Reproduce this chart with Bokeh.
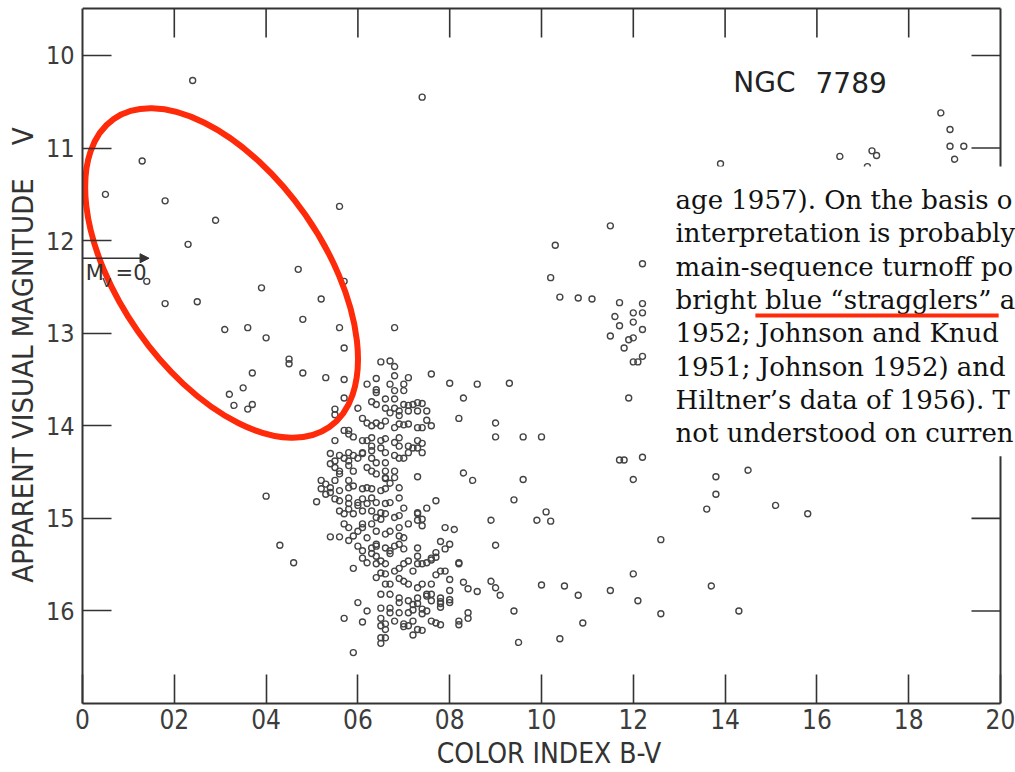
import math
from bokeh.plotting import figure
from bokeh.models import FixedTicker, LinearAxis, Range1d, BoxAnnotation, Label, Arrow, NormalHead, Title
from bokeh.embed import file_html
from bokeh.resources import INLINE

# ---------------- data ----------------
# bright blue stars / blue stragglers (above the turnoff)
upper_bv = [0.24, 0.74, 0.13, 0.05, 0.18, 0.29, 0.56, 0.23, 0.47, 0.39, 0.14, 0.52, 0.57,
            0.18, 0.25, 0.31, 0.36, 0.40, 0.48, 0.56, 0.57, 0.45, 0.45, 0.37, 0.48, 0.53,
            0.57, 0.57, 0.32, 0.35, 0.33, 0.36, 0.37, 0.68, 0.55, 0.55, 0.60]
upper_v = [10.27, 10.45, 11.14, 11.50, 11.57, 11.78, 11.63, 12.04, 12.31, 12.51, 12.44, 12.63, 12.44,
           12.68, 12.66, 12.96, 12.94, 13.05, 12.85, 12.94, 13.16, 13.28, 13.33, 13.43, 13.43, 13.48,
           13.50, 13.70, 13.66, 13.59, 13.78, 13.82, 13.77, 12.94, 13.82, 13.88, 13.81]

# faint blue field stars
faint_blue_bv = [0.40, 0.43, 0.46, 0.51, 0.54, 0.56, 0.59, 0.59]
faint_blue_v = [14.76, 15.29, 15.48, 14.82, 15.20, 15.20, 15.54, 16.45]

# giant branch and red field stars
giant_bv = [1.03, 1.15, 1.39, 1.65, 1.72, 1.73, 1.71, 1.87, 1.89, 1.89, 1.92, 1.90,
            1.22, 1.02, 1.04, 1.08, 1.11, 1.17, 1.22, 1.16, 1.20, 1.22, 1.17, 1.20, 1.22,
            1.15, 1.19, 1.20, 1.18, 1.20, 1.21, 1.22,
            0.76, 0.80, 0.86, 0.93, 0.83, 1.19,
            1.38, 1.38, 1.36, 1.45, 1.51, 1.58, 1.26, 1.37, 1.26, 1.43]
giant_v = [12.05, 11.84, 11.17, 11.09, 11.03, 11.08, 11.20, 10.62, 10.80, 10.98, 10.98, 11.12,
           12.25, 12.40, 12.61, 12.62, 12.63, 12.67, 12.68, 12.82, 12.78, 12.78, 12.92, 12.88, 12.96,
           13.03, 13.07, 13.05, 13.16, 13.31, 13.31, 13.25,
           13.44, 13.54, 13.55, 13.54, 13.70, 13.70,
           14.55, 14.74, 14.90, 14.48, 14.86, 14.95, 15.23, 15.73, 16.03, 16.00]

# stars to the red of the main sequence
red_side_bv = [0.82, 0.90, 0.90, 0.96, 1.00, 1.17, 1.18, 1.22, 1.20, 0.83, 0.85, 0.96, 0.94,
               0.77, 0.75, 1.01, 0.99, 1.02, 0.89, 0.90, 1.20, 0.82, 1.00, 1.05, 1.08, 1.15,
               1.21, 1.09, 0.94, 0.95, 1.04, 0.89, 0.90, 0.91, 0.83, 0.84, 0.86, 0.80, 0.80,
               0.80, 0.80, 0.84, 0.84, 0.82, 0.82, 0.78, 0.80, 0.79, 0.77, 0.76, 0.78, 0.79,
               0.77, 0.78, 0.73, 0.79, 0.81, 0.73, 0.73, 0.74, 0.71, 0.73, 0.73, 0.73, 0.76,
               0.74, 0.75, 0.76, 0.78, 0.78, 0.72, 0.74, 0.72, 0.76, 0.78, 0.74, 0.72, 0.70]
red_side_v = [13.92, 13.97, 14.12, 14.12, 14.12, 14.37, 14.37, 14.34, 14.58, 14.51, 14.59, 14.58, 14.80,
              14.81, 14.89, 14.93, 15.02, 15.03, 15.02, 15.29, 15.60, 15.48, 15.72, 15.73, 15.83, 15.78,
              15.89, 16.13, 16.00, 16.34, 16.30, 15.68, 15.75, 15.83, 15.69, 15.76, 15.79, 15.66, 15.78,
              15.88, 15.91, 16.02, 16.08, 16.11, 16.15, 15.25, 15.28, 15.33, 15.42, 15.45, 15.57, 15.57,
              15.61, 15.96, 14.55, 15.10, 15.12, 14.94, 15.02, 15.08, 15.06, 15.32, 15.41, 15.49, 15.43,
              15.71, 15.82, 15.82, 15.86, 15.90, 15.99, 16.03, 16.11, 16.11, 16.15, 16.21, 16.26, 16.17]

# main sequence, turnoff part (V < 14.6)
ms_top_bv = [0.62, 0.64, 0.64, 0.65, 0.67, 0.68, 0.68, 0.71, 0.67, 0.68, 0.70, 0.64, 0.66, 0.68,
             0.70, 0.63, 0.64, 0.68, 0.70, 0.71, 0.72, 0.73, 0.74, 0.75, 0.73, 0.71, 0.69, 0.67,
             0.66, 0.69, 0.61, 0.62, 0.63, 0.64, 0.65, 0.66, 0.68, 0.69, 0.70, 0.71, 0.73, 0.74,
             0.76, 0.75, 0.57, 0.58, 0.59, 0.61, 0.62, 0.63, 0.65, 0.66, 0.68, 0.69, 0.71, 0.72,
             0.73, 0.74, 0.55, 0.63, 0.69, 0.74, 0.58, 0.54, 0.56, 0.57, 0.58, 0.60, 0.61, 0.63,
             0.64, 0.66, 0.68, 0.69, 0.70, 0.54, 0.55, 0.56, 0.58, 0.59, 0.62, 0.63, 0.64, 0.66,
             0.68, 0.66, 0.55, 0.58, 0.59, 0.61, 0.63, 0.65, 0.66, 0.71, 0.73, 0.68]
ms_top_v = [13.55, 13.49, 13.61, 13.31, 13.30, 13.36, 13.46, 13.48, 13.55, 13.62, 13.55, 13.64, 13.71, 13.71,
            13.62, 13.74, 13.77, 13.81, 13.77, 13.78, 13.77, 13.75, 13.76, 13.84, 13.84, 13.84, 13.84, 13.86,
            13.81, 13.89, 13.92, 13.97, 14.00, 13.97, 14.00, 13.95, 14.02, 13.98, 13.99, 13.98, 14.02, 14.02,
            14.00, 13.94, 14.05, 14.05, 14.12, 14.16, 14.16, 14.22, 14.16, 14.14, 14.18, 14.22, 14.22, 14.24,
            14.16, 14.29, 14.16, 14.13, 14.13, 14.19, 14.09, 14.30, 14.32, 14.35, 14.38, 14.35, 14.30, 14.35,
            14.40, 14.40, 14.32, 14.35, 14.35, 14.41, 14.45, 14.49, 14.43, 14.49, 14.45, 14.49, 14.52, 14.56,
            14.56, 14.49, 14.38, 14.29, 14.32, 14.29, 14.27, 14.24, 14.29, 14.29, 14.24, 14.49]

# main sequence, fainter part
ms_low_bv = [0.53, 0.54, 0.56, 0.58, 0.59, 0.61, 0.62, 0.63, 0.65, 0.66, 0.69, 0.52, 0.53, 0.55,
             0.56, 0.58, 0.58, 0.60, 0.61, 0.63, 0.64, 0.66, 0.67, 0.69, 0.54, 0.56, 0.57, 0.59,
             0.61, 0.63, 0.64, 0.65, 0.66, 0.68, 0.69, 0.66, 0.67, 0.58, 0.60, 0.62, 0.65, 0.70,
             0.57, 0.58, 0.60, 0.61, 0.63, 0.64, 0.66, 0.67, 0.69, 0.70, 0.61, 0.73, 0.74, 0.58,
             0.60, 0.61, 0.63, 0.64, 0.66, 0.67, 0.69, 0.59, 0.62, 0.69, 0.64, 0.68, 0.70, 0.77,
             0.61, 0.62, 0.64, 0.65, 0.66, 0.68, 0.69, 0.70, 0.71, 0.74, 0.63, 0.67, 0.64, 0.65,
             0.66, 0.72, 0.75, 0.82, 0.64, 0.66, 0.67, 0.69, 0.70, 0.71, 0.73, 0.76, 0.65, 0.67,
             0.69, 0.71, 0.73, 0.75, 0.69, 0.73, 0.76, 0.78, 0.60, 0.62, 0.65, 0.67, 0.72, 0.74,
             0.57, 0.61, 0.65, 0.66, 0.68, 0.70, 0.67, 0.69, 0.71, 0.75, 0.65, 0.71, 0.73, 0.77,
             0.65, 0.66, 0.65, 0.66, 0.55, 0.56, 0.58, 0.52]
ms_low_v = [14.63, 14.67, 14.70, 14.67, 14.65, 14.68, 14.67, 14.68, 14.70, 14.68, 14.67, 14.68, 14.74, 14.79,
            14.81, 14.78, 14.84, 14.83, 14.79, 14.78, 14.83, 14.84, 14.83, 14.78, 14.72, 14.92, 14.95, 14.95,
            14.92, 14.92, 14.99, 14.94, 14.95, 14.99, 14.97, 14.57, 14.62, 14.90, 14.86, 14.84, 15.01, 14.89,
            15.06, 15.10, 15.14, 15.10, 15.06, 15.14, 15.17, 15.14, 15.10, 15.21, 15.06, 14.95, 15.01, 15.24,
            15.30, 15.35, 15.32, 15.28, 15.32, 15.35, 15.28, 15.19, 15.21, 15.19, 15.30, 15.30, 15.33, 15.37,
            15.43, 15.48, 15.49, 15.46, 15.49, 15.57, 15.54, 15.49, 15.46, 15.49, 15.38, 15.38, 15.41, 15.59,
            15.60, 15.57, 15.48, 15.49, 15.64, 15.71, 15.71, 15.65, 15.68, 15.71, 15.75, 15.71, 15.82, 15.82,
            15.86, 15.89, 15.86, 15.84, 15.91, 15.92, 15.89, 15.92, 15.91, 16.00, 15.97, 15.97, 15.93, 15.98,
            16.08, 16.12, 16.08, 16.14, 16.11, 16.14, 16.02, 16.02, 16.02, 16.00, 16.16, 16.16, 16.20, 16.13,
            16.29, 16.29, 16.35, 16.20, 14.59, 14.52, 14.59, 14.59]

x_ticks = [0.0, 0.2, 0.4, 0.6, 0.8, 1.0, 1.2, 1.4, 1.6, 1.8, 2.0]
x_tick_labels = ["0", "02", "04", "06", "08", "10", "12", "14", "16", "18", "20"]
y_ticks = [10, 11, 12, 13, 14, 15, 16]
y_tick_labels = ["10", "11", "12", "13", "14", "15", "16"]

text_lines = [
    "age 1957). On the basis o",
    "interpretation is probably",
    "main-sequence turnoff po",
    "bright blue \u201cstragglers\u201d a",
    "1952; Johnson and Knud",
    "1951; Johnson 1952) and",
    "Hiltner\u2019s data of 1956). T",
    "not understood on curren",
]

# ---------------- layout & styling ----------------
INK = "#333333"
RED = "#ff2a0a"
SANS = "DejaVu Sans"
COND = "DejaVu Sans Condensed"
SERIF = "DejaVu Serif"

X_MIN, X_MAX = 0.0, 2.0          # plotted B-V range (box edges)
V_FAINT, V_BRIGHT = 17.0, 9.4923  # plotted V range (box edges)
PX_X = 459.0                      # pixels per unit of B-V
PX_Y = 92.57                      # pixels per magnitude
TICK_PX = 29

p = figure(width=1015, height=772,
           x_range=Range1d(X_MIN, X_MAX + 15 / PX_X),
           y_range=Range1d(V_FAINT, V_BRIGHT - 2 / PX_Y),
           output_backend="svg", toolbar_location=None,
           x_axis_location=None, y_axis_location=None,
           min_border_left=82, min_border_right=0, min_border_top=6, min_border_bottom=69)
p.outline_line_color = None
p.background_fill_color = "white"
p.border_fill_color = "white"
p.grid.visible = False

xaxis = LinearAxis(ticker=FixedTicker(ticks=x_ticks), bounds=(X_MIN, X_MAX),
                   major_tick_in=TICK_PX, major_tick_out=0, minor_tick_line_color=None,
                   major_tick_line_color=INK, major_tick_line_width=1.6,
                   axis_line_color=INK, axis_line_width=2,
                   major_label_overrides={t: l for t, l in zip(x_ticks, x_tick_labels)},
                   major_label_text_font=COND, major_label_text_font_size="26px",
                   major_label_text_color="#3c3c3c", major_label_standoff=5)
p.add_layout(xaxis, "below")
p.add_layout(Title(text="COLOR INDEX B-V", align="center", offset=39, standoff=6,
                   text_font=COND, text_font_size="28px", text_font_style="normal",
                   text_color=INK), "below")

yaxis = LinearAxis(ticker=FixedTicker(ticks=y_ticks), bounds=(V_BRIGHT, V_FAINT),
                   major_tick_in=TICK_PX, major_tick_out=0, minor_tick_line_color=None,
                   major_tick_line_color=INK, major_tick_line_width=1.6,
                   axis_line_color=INK, axis_line_width=2,
                   major_label_overrides={t: l for t, l in zip(y_ticks, y_tick_labels)},
                   major_label_text_font=COND, major_label_text_font_size="25px",
                   major_label_text_color="#3c3c3c", major_label_standoff=8,
                   axis_label="APPARENT VISUAL MAGNITUDE\u00a0\u00a0\u00a0\u00a0V",
                   axis_label_text_font=COND, axis_label_text_font_size="29px",
                   axis_label_text_font_style="normal", axis_label_text_color=INK,
                   axis_label_standoff=3)
p.add_layout(yaxis, "left")

# top and right edges of the box with their inward ticks
p.segment(x0=[X_MIN, X_MAX], y0=[V_BRIGHT, V_BRIGHT], x1=[X_MAX, X_MAX], y1=[V_BRIGHT, V_FAINT],
          line_color=INK, line_width=2)
p.segment(x0=x_ticks[1:-1], y0=[V_BRIGHT] * (len(x_ticks) - 2), x1=x_ticks[1:-1],
          y1=[V_BRIGHT + TICK_PX / PX_Y] * (len(x_ticks) - 2), line_color=INK, line_width=1.6)
p.segment(x0=[X_MAX - TICK_PX / PX_X] * len(y_ticks), y0=y_ticks, x1=[X_MAX] * len(y_ticks), y1=y_ticks,
          line_color=INK, line_width=1.6)

for bv, v in [(upper_bv, upper_v), (faint_blue_bv, faint_blue_v), (giant_bv, giant_v),
              (red_side_bv, red_side_v), (ms_top_bv, ms_top_v), (ms_low_bv, ms_low_v)]:
    p.scatter(bv, v, marker="circle", size=6, line_color="#444444", fill_color=None, line_width=1.4)

# cluster name
p.add_layout(Label(x=1.418, y=10.29, text="NGC", text_font=SANS, text_font_size="28px",
                   text_color="#222222", text_baseline="middle"))
p.add_layout(Label(x=1.597, y=10.29, text="7789", text_font=SANS, text_font_size="28px",
                   text_color="#222222", text_baseline="middle"))

# M_V = 0 marker
p.add_layout(Arrow(x_start=0.0, y_start=12.19, x_end=0.145, y_end=12.19, line_color=INK, line_width=1.5,
                   end=NormalHead(size=9, fill_color=INK, line_color=INK)))
p.add_layout(Label(x=0.007, y=12.35, text="M", text_font=SANS, text_font_size="21px",
                   text_color=INK, text_baseline="middle"))
p.add_layout(Label(x=0.043, y=12.45, text="V", text_font=SANS, text_font_size="13px",
                   text_color=INK, text_baseline="middle"))
p.add_layout(Label(x=0.072, y=12.35, text="=0", text_font=SANS, text_font_size="21px",
                   text_color=INK, text_baseline="middle"))

# red ellipse around the blue stragglers
p.ellipse(x=0.303, y=12.35, width=376, height=204, width_units="screen", height_units="screen",
          angle=-0.96, fill_color=None, line_color=RED, line_width=6)

# pasted text excerpt
p.add_layout(BoxAnnotation(left=1.277, right=2.6, top=11.20, bottom=14.33, fill_color="white",
                           fill_alpha=1.0, line_color=None))
line_y = [11.56, 11.92, 12.28, 12.64, 13.00, 13.36, 13.72, 14.08]
for txt, yy in zip(text_lines, line_y):
    p.add_layout(Label(x=1.292, y=yy, text=txt, text_font=SERIF, text_font_size="26px",
                       text_color="#111111", text_baseline="middle"))
p.add_layout(Arrow(x_start=1.466, y_start=12.81, x_end=1.996, y_end=12.81, line_color=RED,
                   line_width=4, end=None))

open("out.html", "w").write(file_html(p, INLINE))
